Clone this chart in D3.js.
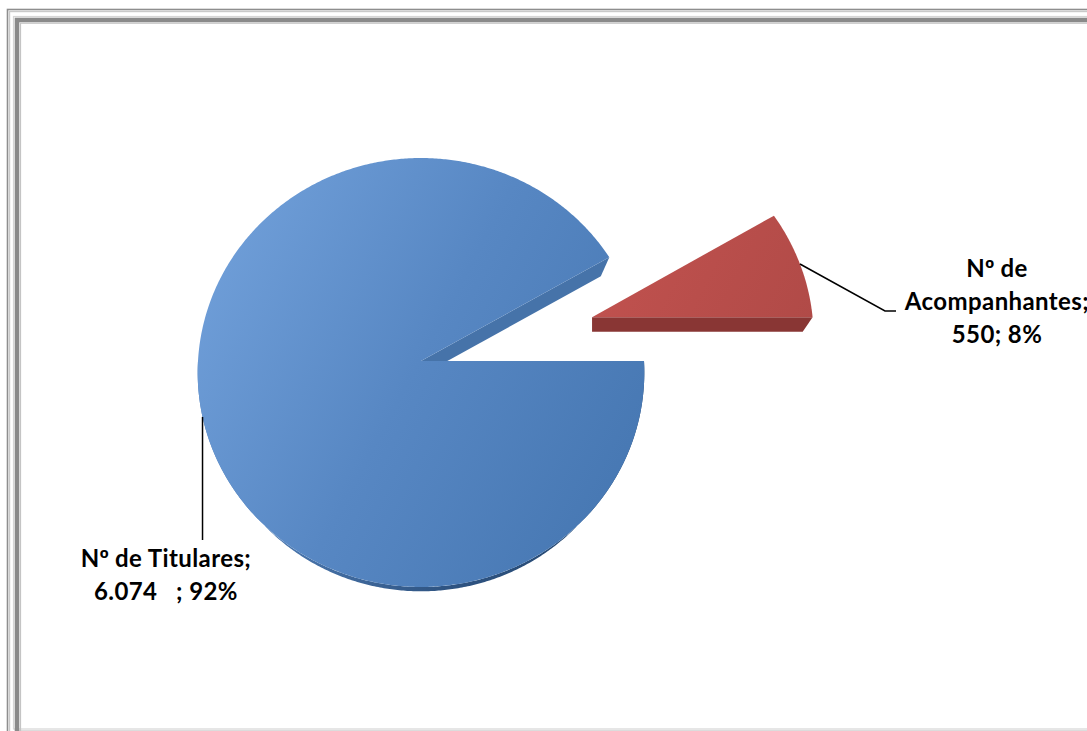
<!DOCTYPE html>
<html>
<head>
<meta charset="utf-8">
<script src="https://cdn.jsdelivr.net/npm/d3@7"></script>
<style>
  html, body { margin: 0; padding: 0; background: #fff; overflow: hidden; }
  svg { display: block; }
  .lbl { font-family: Lato, "Open Sans", sans-serif; font-weight: 700; font-size: 24px; letter-spacing: 0.4px; fill: #000; white-space: pre; }
  .ord { font-family: "Liberation Sans", Arial, sans-serif; }
</style>
</head>
<body>
<svg id="chart" width="1087" height="731"></svg>
<script>
// Beneficiaries split: holders vs companions
const categories = ["Nº de Titulares", "Nº de Acompanhantes"];
const values = [6074, 550];
const valuePad = ["   ", ""];          // spacing that follows each value in its label
const explode = [0, 179];               // radial pull-out of each slice, px

const W = 1087, H = 731;
const svg = d3.select("#chart");

// ---- frame ----
const frame = svg.append("g");
[
  { x: 7.5,  y: 9.5,  c: "#8e8e8e", w: 1.6, b: 760 },
  { x: 9.5,  y: 11.5, c: "#c9c9c9", w: 1.4, b: 760 },
  { x: 13.5, y: 16.5, c: "#d6d6d6", w: 1.2, b: 729 },
  { x: 17,   y: 20,   c: "#8a8a8a", w: 4.6, b: 733 },
  { x: 20.5, y: 23.2, c: "#c4c4c4", w: 1.2, b: 737 }
].forEach(f => {
  frame.append("rect")
    .attr("x", f.x).attr("y", f.y)
    .attr("width", W + 40).attr("height", f.b - f.y)
    .attr("fill", "none").attr("stroke", f.c).attr("stroke-width", f.w);
});

// ---- pie geometry (tilted disc with mild perspective) ----
const cx = 421, cy = 361, R = 223;
const tilt = 0.959;          // vertical foreshortening
const persp = 0.0536 / R;    // depth-dependent scale
const depth = 14.5;          // slab thickness
const baseShrink = 0.955;    // lower face recedes slightly

function proj(u, v) {
  const s = 1 / (1 + persp * v);
  return [cx + u * s, cy - tilt * v * s];
}

const total = d3.sum(values);
const pie = d3.pie().sort(null).startAngle(Math.PI / 2).endAngle(Math.PI / 2 + 2 * Math.PI);
const arcs = pie(values);

// convert to counter-clockwise angles measured from 3 o'clock
const slices = arcs.map((a, i) => {
  const t0 = Math.PI / 2 - a.startAngle + 2 * Math.PI;
  const t1 = Math.PI / 2 - a.endAngle + 2 * Math.PI;
  const lo = Math.min(t0, t1), hi = Math.max(t0, t1);
  const mid = (lo + hi) / 2;
  const ou = explode[i] * Math.cos(mid), ov = explode[i] * Math.sin(mid);
  return { i, lo, hi, mid, ou, ov, c: proj(ou, ov), value: values[i] };
});

function pt(sl, t, bottom) {
  const p = proj(sl.ou + R * Math.cos(t), sl.ov + R * Math.sin(t));
  if (!bottom) return p;
  return [sl.c[0] + (p[0] - sl.c[0]) * baseShrink, sl.c[1] + (p[1] - sl.c[1]) * baseShrink + depth];
}
function rim(sl, a0, a1, bottom) {
  const n = Math.max(2, Math.ceil(Math.abs(a1 - a0) / (Math.PI / 360)));
  return d3.range(n + 1).map(k => pt(sl, a0 + (a1 - a0) * k / n, bottom));
}
const line = d3.line();

// ---- gradients ----
const defs = svg.append("defs");
function lin(id, x1, y1, x2, y2, stops) {
  const g = defs.append("linearGradient").attr("id", id)
    .attr("gradientUnits", "userSpaceOnUse")
    .attr("x1", x1).attr("y1", y1).attr("x2", x2).attr("y2", y2);
  stops.forEach(s => g.append("stop").attr("offset", s[0]).attr("stop-color", s[1]));
}
lin("topBlue", 200, 230, 650, 470, [[0, "#71a0da"], [0.5, "#5787c3"], [1, "#4677b2"]]);
lin("sideBlue", 250, 0, 640, 0, [[0, "#4f7db6"], [0.5, "#2f5482"], [1, "#22446c"]]);
lin("topRed", 600, 220, 815, 330, [[0, "#c2524f"], [1, "#b04a47"]]);

const style = [
  { top: "url(#topBlue)", side: "url(#sideBlue)", cut: "#4673a9" },
  { top: "url(#topRed)",  side: "#8b3835",        cut: "#893634" }
];

const pieG = svg.append("g");

// walls first
slices.forEach(sl => {
  const st = style[sl.i];
  // outer wall, front-facing part only
  const a0 = Math.max(sl.lo, Math.PI), a1 = Math.min(sl.hi, 2 * Math.PI);
  if (a1 > a0) {
    const pts = rim(sl, a0, a1, false).concat(rim(sl, a1, a0, true));
    pieG.append("path").attr("d", line(pts) + "Z").attr("fill", st.side);
  }
  // radial cut faces that face the viewer
  [[sl.lo, sl.lo - Math.PI / 2], [sl.hi, sl.hi + Math.PI / 2]].forEach(([t, nrm]) => {
    if (Math.sin(nrm) < -1e-6) {
      const c1 = [sl.c[0], sl.c[1] + depth];
      pieG.append("path")
        .attr("d", line([sl.c, pt(sl, t, false), pt(sl, t, true), c1]) + "Z")
        .attr("fill", st.cut);
    }
  });
});

// top faces
slices.forEach(sl => {
  const pts = [sl.c].concat(rim(sl, sl.lo, sl.hi, false));
  pieG.append("path").attr("d", line(pts) + "Z").attr("fill", style[sl.i].top);
});

// ---- data labels with leader lines ----
const fmt = d3.formatLocale({ decimal: ",", thousands: ".", grouping: [3], currency: ["", ""] }).format(",d");
const pct = v => Math.round(v / total * 100) + "%";

const labelLayout = [
  { lines: s => [categories[0] + ";", fmt(s.value) + valuePad[0] + "; " + pct(s.value)],
    x: 166, y0: 567, dy: 33, leader: a => [a, [a[0], 540]] },
  { lines: s => { const w = categories[1].split(" "); return [w.slice(0, 2).join(" "), w.slice(2).join(" ") + ";", fmt(s.value) + valuePad[1] + "; " + pct(s.value)]; },
    x: 997, y0: 277, dy: 33, leader: a => [a, [885, 311], [896, 311]] }
];

slices.forEach(sl => {
  const L = labelLayout[sl.i];
  const anchor = pt(sl, sl.mid, false);
  svg.append("path").attr("d", line(L.leader(anchor)))
    .attr("fill", "none").attr("stroke", "#000").attr("stroke-width", 1.5);
  const t = svg.append("text").attr("class", "lbl").attr("text-anchor", "middle");
  L.lines(sl).forEach((s, k) => {
    const row = t.append("tspan").attr("x", L.x).attr("y", L.y0 + k * L.dy);
    // the ordinal sign is set in a face that draws it underlined
    s.split(/(º)/).filter(p => p.length).forEach(p => {
      const sp = row.append("tspan").text(p);
      if (p === "º") sp.attr("class", "ord");
    });
  });
});
</script>
</body>
</html>
